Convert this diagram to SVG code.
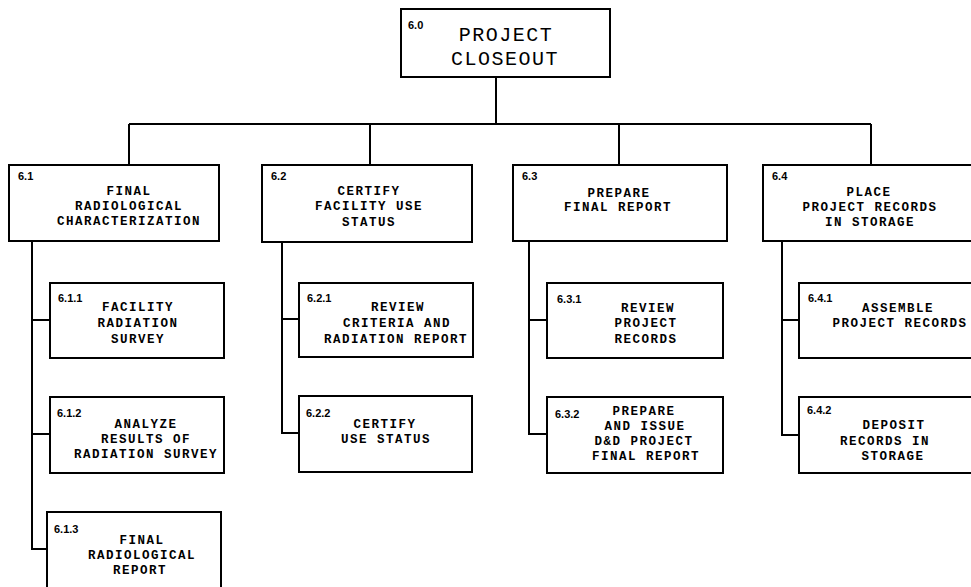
<svg xmlns="http://www.w3.org/2000/svg" width="971" height="587" viewBox="0 0 971 587">
<style>
.box{fill:#fff;stroke:#000;stroke-width:2}
.ln{fill:none;stroke:#000;stroke-width:2}
.t{font-family:"Liberation Mono","DejaVu Sans Mono",monospace;font-weight:bold;font-size:12.5px;letter-spacing:1.5px;text-anchor:middle;fill:#000}
.tt{font-family:"Liberation Mono","DejaVu Sans Mono",monospace;font-size:20px;letter-spacing:1.5px;text-anchor:middle;fill:#000}
.n{font-family:"Liberation Sans",Arial,sans-serif;font-weight:bold;font-size:11px;fill:#000}
</style>
<rect width="971" height="587" fill="#fff"/>
<g id="connectors">
<path class="ln" d="M496,77 V124 M129,124 H871 M129,124 V165 M370,124 V165 M619,124 V165 M871,124 V165"/>
<path class="ln" d="M32,241 V549 H47 M32,320 H50 M32,434 H50"/>
<path class="ln" d="M282,242 V433 H299 M282,319 H299"/>
<path class="ln" d="M529,241 V434 H547 M529,320 H547"/>
<path class="ln" d="M782,241 V435 H799 M782,320 H799"/>
</g>
<g id="n6_0">
<rect class="box" x="401" y="9" width="209" height="68"/>
<text class="n" x="408" y="29">6.0</text>
<text class="tt" x="506" y="41">PROJECT</text>
<text class="tt" x="505" y="65">CLOSEOUT</text>
</g>
<g id="n6_1">
<rect class="box" x="9" y="165" width="210" height="76"/>
<text class="n" x="18" y="180">6.1</text>
<text class="t" x="129" y="195">FINAL</text>
<text class="t" x="129" y="210">RADIOLOGICAL</text>
<text class="t" x="129" y="225">CHARACTERIZATION</text>
</g>
<g id="n6_2">
<rect class="box" x="262" y="165" width="210" height="77"/>
<text class="n" x="271" y="180">6.2</text>
<text class="t" x="369" y="195">CERTIFY</text>
<text class="t" x="369" y="210">FACILITY USE</text>
<text class="t" x="369" y="226">STATUS</text>
</g>
<g id="n6_3">
<rect class="box" x="513" y="165" width="214" height="76"/>
<text class="n" x="522" y="180">6.3</text>
<text class="t" x="619" y="197">PREPARE</text>
<text class="t" x="618" y="211">FINAL REPORT</text>
</g>
<g id="n6_4">
<rect class="box" x="763" y="165" width="220" height="76"/>
<text class="n" x="772" y="180">6.4</text>
<text class="t" x="869" y="196">PLACE</text>
<text class="t" x="870" y="211">PROJECT RECORDS</text>
<text class="t" x="870" y="226">IN STORAGE</text>
</g>
<g id="n6_1_1">
<rect class="box" x="50" y="283" width="174" height="75"/>
<text class="n" x="58" y="302">6.1.1</text>
<text class="t" x="138" y="311">FACILITY</text>
<text class="t" x="138" y="327">RADIATION</text>
<text class="t" x="138" y="343">SURVEY</text>
</g>
<g id="n6_1_2">
<rect class="box" x="50" y="397" width="174" height="76"/>
<text class="n" x="57" y="417">6.1.2</text>
<text class="t" x="146" y="428">ANALYZE</text>
<text class="t" x="146" y="443">RESULTS OF</text>
<text class="t" x="146" y="458">RADIATION SURVEY</text>
</g>
<g id="n6_1_3">
<rect class="box" x="47" y="512" width="174" height="90"/>
<text class="n" x="54" y="533">6.1.3</text>
<text class="t" x="142" y="544">FINAL</text>
<text class="t" x="142" y="559">RADIOLOGICAL</text>
<text class="t" x="140" y="574">REPORT</text>
</g>
<g id="n6_2_1">
<rect class="box" x="299" y="283" width="174" height="74"/>
<text class="n" x="307" y="302">6.2.1</text>
<text class="t" x="398" y="311">REVIEW</text>
<text class="t" x="397" y="327">CRITERIA AND</text>
<text class="t" x="396" y="343">RADIATION REPORT</text>
</g>
<g id="n6_2_2">
<rect class="box" x="299" y="396" width="173" height="76"/>
<text class="n" x="306" y="417">6.2.2</text>
<text class="t" x="385" y="428">CERTIFY</text>
<text class="t" x="386" y="443">USE STATUS</text>
</g>
<g id="n6_3_1">
<rect class="box" x="547" y="283" width="176" height="75"/>
<text class="n" x="557" y="303">6.3.1</text>
<text class="t" x="648" y="312">REVIEW</text>
<text class="t" x="646" y="327">PROJECT</text>
<text class="t" x="646" y="343">RECORDS</text>
</g>
<g id="n6_3_2">
<rect class="box" x="547" y="397" width="176" height="76"/>
<text class="n" x="555" y="418">6.3.2</text>
<text class="t" x="644" y="415">PREPARE</text>
<text class="t" x="645" y="430">AND ISSUE</text>
<text class="t" x="644" y="445">D&amp;D PROJECT</text>
<text class="t" x="646" y="460">FINAL REPORT</text>
</g>
<g id="n6_4_1">
<rect class="box" x="799" y="283" width="185" height="75"/>
<text class="n" x="808" y="302">6.4.1</text>
<text class="t" x="898" y="312">ASSEMBLE</text>
<text class="t" x="900" y="327">PROJECT RECORDS</text>
</g>
<g id="n6_4_2">
<rect class="box" x="799" y="397" width="185" height="76"/>
<text class="n" x="807" y="414">6.4.2</text>
<text class="t" x="894" y="429">DEPOSIT</text>
<text class="t" x="885" y="445">RECORDS IN</text>
<text class="t" x="893" y="460">STORAGE</text>
</g>
</svg>
